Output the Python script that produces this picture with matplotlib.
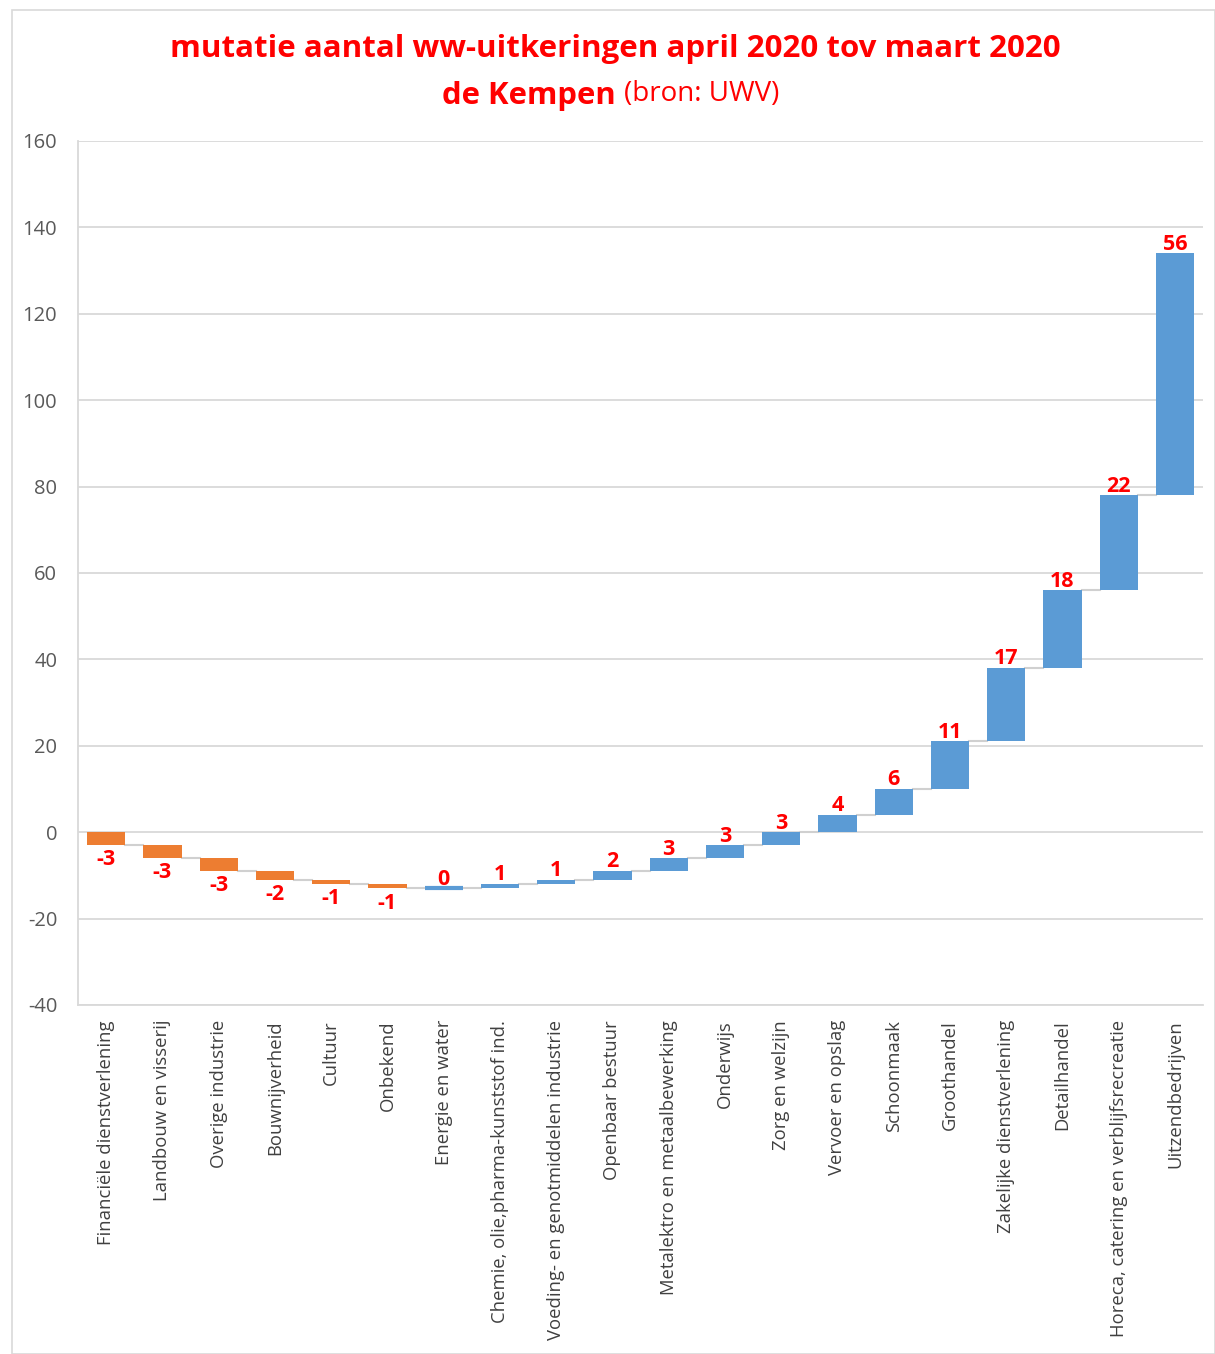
import matplotlib
matplotlib.use("Agg")
import matplotlib.pyplot as plt
import numpy as np
from matplotlib.patches import Rectangle

plt.rcParams["font.family"] = ["Open Sans", "DejaVu Sans"]

categories = [
    "Financiële dienstverlening", "Landbouw en visserij", "Overige industrie",
    "Bouwnijverheid", "Cultuur", "Onbekend", "Energie en water",
    "Chemie, olie,pharma-kunststof ind.", "Voeding- en genotmiddelen industrie",
    "Openbaar bestuur", "Metalektro en metaalbewerking", "Onderwijs",
    "Zorg en welzijn", "Vervoer en opslag", "Schoonmaak", "Groothandel",
    "Zakelijke dienstverlening", "Detailhandel",
    "Horeca, catering en verblijfsrecreatie", "Uitzendbedrijven",
]
changes = [-3, -3, -3, -2, -1, -1, 0, 1, 1, 2, 3, 3, 3, 4, 6, 11, 17, 18, 22, 56]
yticks = [-40, -20, 0, 20, 40, 60, 80, 100, 120, 140, 160]

W, H, DPI = 1215, 1354, 100
fig = plt.figure(figsize=(W / DPI, H / DPI), dpi=DPI)
fig.patch.set_facecolor("white")

# outer light border
fig.add_artist(Rectangle((12 / W, 0), 1 - 12 / W, 1 - 10 / H, transform=fig.transFigure,
                         fill=False, edgecolor="#d9d9d9", linewidth=1.2))

ax = fig.add_axes([78 / W, 1 - 1005 / H, (1203 - 78) / W, (1005 - 141) / H])
ax.set_ylim(-40, 160)
ax.set_xlim(-0.5, len(categories) - 0.5)
ax.set_yticks(yticks)
ax.set_yticklabels([str(v) for v in yticks])
ax.grid(axis="y", color="#d9d9d9", linewidth=1.3)
ax.set_axisbelow(True)
for s in ["top", "right"]:
    ax.spines[s].set_visible(False)
ax.spines["left"].set_color("#d9d9d9")
ax.spines["bottom"].set_color("#d9d9d9")
ax.spines["left"].set_linewidth(1.3)
ax.spines["bottom"].set_linewidth(1.3)
ax.tick_params(axis="y", length=0, pad=15, labelsize=14.5, labelcolor="#595959")
ax.tick_params(axis="x", length=0)

orange = "#ED7D31"
blue = "#5B9BD5"
x = np.arange(len(categories))
starts = np.concatenate([[0], np.cumsum(changes)[:-1]])
ends = np.cumsum(changes)
width = 0.68

for i, (s, c) in enumerate(zip(starts, changes)):
    col = orange if c < 0 else blue
    if c == 0:
        ax.plot([i - width / 2, i + width / 2], [s, s], color=col, linewidth=3, solid_capstyle="butt", zorder=3)
    else:
        ax.bar(i, c, bottom=s, width=width, color=col, zorder=3)
    if i < len(categories) - 1:
        ax.plot([i + width / 2, i + 1 - width / 2], [ends[i], ends[i]], color="#d0d0d0", linewidth=1.5, zorder=2)
    if c < 0:
        ax.annotate(str(c), xy=(i, ends[i]), xytext=(0, -3), textcoords="offset points",
                    ha="center", va="top", color="red", fontsize=15.5, fontweight="bold")
    else:
        ax.annotate(str(c), xy=(i, ends[i]), xytext=(0, -1), textcoords="offset points",
                    ha="center", va="bottom", color="red", fontsize=15.5, fontweight="bold")

ax.set_xticks(x)
ax.set_xticklabels([])
for i, lab in enumerate(categories):
    ax.text(i, -43.5, lab, rotation=90, ha="center", va="top", fontsize=13.3,
            color="#404040", transform=ax.transData, clip_on=False)

# Title
fig.text(615 / W, 1 - 49 / H, "mutatie aantal ww-uitkeringen april 2020 tov maart 2020",
         ha="center", va="center", color="red", fontsize=22.5, fontweight="bold")
t1 = fig.text(616 / W, 1 - 96 / H, "de Kempen", ha="right", va="center", color="red",
              fontsize=22.3, fontweight="bold")
ax.annotate("(bron: UWV)", xy=(1, 0.1), xycoords=t1, xytext=(6, 0), textcoords="offset points",
            ha="left", va="bottom", color="red", fontsize=20, annotation_clip=False)

fig.savefig("out.png", dpi=DPI)
